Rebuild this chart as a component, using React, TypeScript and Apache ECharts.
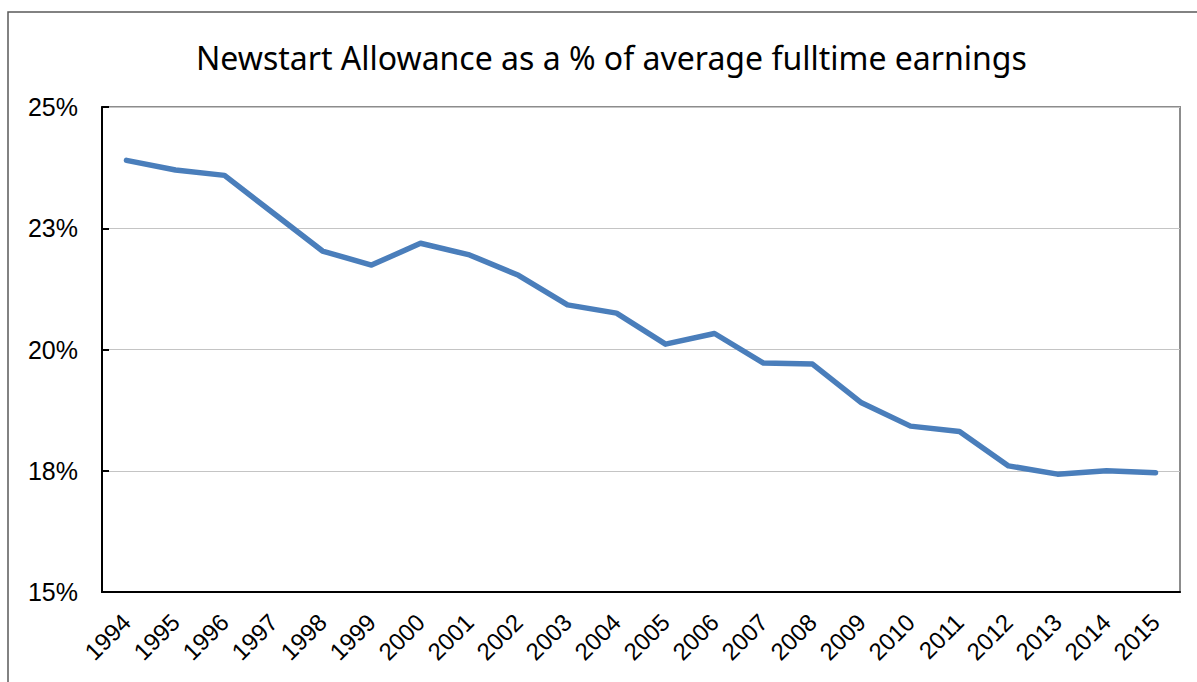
import React, { useEffect, useRef } from "react";
import * as echarts from "echarts";

const years = ["1994","1995","1996","1997","1998","1999","2000","2001","2002","2003","2004","2005","2006","2007","2008","2009","2010","2011","2012","2013","2014","2015"];
const allowancePct = [23.9,23.7,23.59,22.81,22.03,21.74,22.19,21.95,21.53,20.92,20.75,20.11,20.33,19.72,19.7,18.9,18.42,18.31,17.6,17.43,17.5,17.46];
const yTickValues = [15, 17.5, 20, 22.5, 25];
const yTickLabels = ["15%", "18%", "20%", "23%", "25%"];
const title = "Newstart Allowance as a % of average fulltime earnings";

export default function App() {
  const ref = useRef<HTMLDivElement>(null);
  useEffect(() => {
    if (!ref.current) return;
    const chart = echarts.init(ref.current, undefined, { renderer: "svg" });
    chart.setOption({
      animation: false,
      backgroundColor: "#ffffff",
      title: {
        text: title,
        left: 191,
        top: 36,
        textStyle: { fontFamily: "Noto Sans", fontSize: 32, fontWeight: "normal", color: "#000" },
      },
      graphic: [
        {
          type: "rect",
          shape: { x: 8, y: 12, width: 1300, height: 800 },
          style: { fill: "none", stroke: "#5a5a5a", lineWidth: 1.5 },
          z: -1,
        },
      ],
      grid: {
        left: 102,
        right: 17,
        top: 107,
        bottom: 90,
        show: true,
        borderColor: "#8c8c8c",
        borderWidth: 2,
        containLabel: false,
      },
      xAxis: {
        type: "category",
        data: years,
        boundaryGap: true,
        axisLine: { show: true, lineStyle: { color: "#000", width: 2 } },
        axisTick: { show: false },
        axisLabel: {
          rotate: 45,
          margin: 26,
          interval: 0,
          fontFamily: "Liberation Sans",
          fontSize: 24,
          color: "#000",
        },
      },
      yAxis: {
        type: "value",
        min: 15,
        max: 25,
        interval: 2.5,
        axisLine: { show: true, lineStyle: { color: "#000", width: 2 } },
        axisTick: { show: true, inside: true, length: 7, lineStyle: { color: "#000", width: 2 } },
        splitLine: { show: true, lineStyle: { color: "#c4c4c4", width: 1 } },
        axisLabel: {
          margin: 24,
          fontFamily: "Liberation Sans",
          fontSize: 25,
          color: "#000",
          formatter: (v: number) => {
            const i = yTickValues.findIndex((t) => Math.abs(t - v) < 1e-6);
            return i >= 0 ? yTickLabels[i] : "";
          },
        },
      },
      series: [
        {
          type: "line",
          data: allowancePct,
          symbol: "none",
          lineStyle: { color: "#4a7ebb", width: 5.5, cap: "round", join: "round" },
        },
      ],
    });
    return () => chart.dispose();
  }, []);
  return (
    <div
      ref={ref}
      style={{ position: "absolute", left: 0, top: 0, width: 1197, height: 682 }}
    />
  );
}
